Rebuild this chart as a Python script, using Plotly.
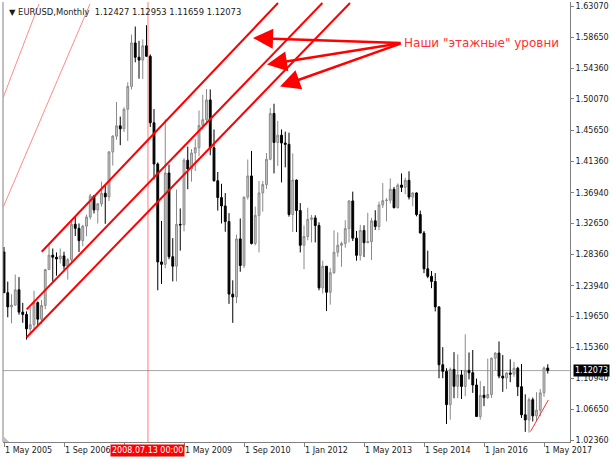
import plotly.graph_objects as go
import pandas as pd

# ---------------- data ----------------
months = [p.strftime('%Y-%m') for p in pd.period_range('2005-05', '2017-06', freq='M')]

opens = [
    1.2867, 1.2297, 1.2098, 1.2124, 1.2337, 1.2025, 1.1993, 1.1790,
    1.1849, 1.2158, 1.1926, 1.2118, 1.2620, 1.2822, 1.2793, 1.2769, 1.2811, 1.2670, 1.2758, 1.3254,
    1.3197, 1.3025, 1.3228, 1.3356, 1.3650, 1.3454, 1.3540, 1.3688, 1.3637, 1.4265, 1.4486, 1.4631,
    1.4589, 1.4862, 1.5182, 1.5790, 1.5590, 1.5550, 1.5750, 1.5604, 1.4674, 1.4097, 1.2727, 1.2693,
    1.3971, 1.2800, 1.2668, 1.3252, 1.3245, 1.4150, 1.4027, 1.4252, 1.4325, 1.4637, 1.4717, 1.4993,
    1.4325, 1.3863, 1.3627, 1.3510, 1.3291, 1.2277, 1.2237, 1.3049, 1.2677, 1.3634, 1.3930, 1.2985,
    1.3378, 1.3693, 1.3810, 1.4163, 1.4804, 1.4398, 1.4500, 1.4390, 1.4372, 1.3390, 1.3872, 1.3446,
    1.2960, 1.3083, 1.3323, 1.3343, 1.3237, 1.2365, 1.2667, 1.2303, 1.2577, 1.2862, 1.2960, 1.2984,
    1.3193, 1.3580, 1.3059, 1.2819, 1.3168, 1.2996, 1.3011, 1.3302, 1.3223, 1.3524, 1.3584, 1.3590,
    1.3743, 1.3486, 1.3802, 1.3770, 1.3869, 1.3634, 1.3692, 1.3390, 1.3131, 1.2631, 1.2526, 1.2453,
    1.2098, 1.1289, 1.1197, 1.0731, 1.1224, 1.0987, 1.1147, 1.0985, 1.1211, 1.1177, 1.1006, 1.0565,
    1.0862, 1.0829, 1.0872, 1.1380, 1.1452, 1.1130, 1.1103, 1.1174, 1.1157, 1.1240, 1.0982, 1.0589,
    1.0517, 1.0800, 1.0574, 1.0654, 1.0896, 1.12427,
]
highs = [
    1.2935, 1.2452, 1.2275, 1.2551, 1.2515, 1.2155, 1.2035, 1.2090,
    1.2325, 1.2175, 1.2195, 1.2630, 1.2980, 1.2915, 1.2860, 1.2915, 1.2870, 1.2780, 1.3290, 1.3365,
    1.3265, 1.3245, 1.3390, 1.3680, 1.3660, 1.3545, 1.3850, 1.3790, 1.4280, 1.4500, 1.4965, 1.4760,
    1.4890, 1.5240, 1.5905, 1.6020, 1.5820, 1.5840, 1.6038, 1.5630, 1.4865, 1.4120, 1.3300, 1.4720,
    1.4090, 1.3060, 1.3740, 1.3475, 1.4180, 1.4340, 1.4305, 1.4445, 1.4845, 1.5065, 1.5145, 1.5140,
    1.4580, 1.3985, 1.3820, 1.3690, 1.3410, 1.2470, 1.3110, 1.3335, 1.3640, 1.4160, 1.4280, 1.3500,
    1.3860, 1.3860, 1.4250, 1.4880, 1.4940, 1.4700, 1.4580, 1.4550, 1.4535, 1.4245, 1.3880, 1.3550,
    1.3235, 1.3485, 1.3385, 1.3380, 1.3280, 1.2745, 1.2670, 1.2640, 1.3170, 1.3140, 1.3010, 1.3310,
    1.3590, 1.3710, 1.3160, 1.3245, 1.3240, 1.3415, 1.3345, 1.3450, 1.3570, 1.3830, 1.3620, 1.3895,
    1.3775, 1.3825, 1.3965, 1.3905, 1.3995, 1.3700, 1.3700, 1.3445, 1.3160, 1.2885, 1.2600, 1.2570,
    1.2105, 1.1535, 1.1240, 1.1250, 1.1465, 1.1435, 1.1215, 1.1715, 1.1460, 1.1495, 1.1095, 1.1060,
    1.0990, 1.1375, 1.1390, 1.1465, 1.1615, 1.1425, 1.1185, 1.1365, 1.1330, 1.1260, 1.1300, 1.0875,
    1.0830, 1.0830, 1.0905, 1.0950, 1.1265, 1.12953,
]
lows = [
    1.2292, 1.1953, 1.1868, 1.2115, 1.1990, 1.1875, 1.1640, 1.1710,
    1.1790, 1.1830, 1.1860, 1.2065, 1.2620, 1.2455, 1.2535, 1.2705, 1.2620, 1.2480, 1.2710, 1.3090,
    1.2865, 1.2945, 1.3085, 1.3320, 1.3405, 1.3265, 1.3500, 1.3260, 1.3580, 1.4075, 1.4435, 1.4360,
    1.4545, 1.4420, 1.5140, 1.5520, 1.5290, 1.5285, 1.5595, 1.4615, 1.3880, 1.2330, 1.2420, 1.2640,
    1.2765, 1.2455, 1.2455, 1.2885, 1.3155, 1.3745, 1.3850, 1.4000, 1.4205, 1.4580, 1.4650, 1.4220,
    1.3850, 1.3445, 1.3265, 1.3150, 1.2140, 1.1875, 1.2150, 1.2590, 1.2640, 1.3600, 1.2970, 1.2960,
    1.2860, 1.3430, 1.3750, 1.4150, 1.3965, 1.4070, 1.3840, 1.4050, 1.3360, 1.3145, 1.3145, 1.2860,
    1.2625, 1.3030, 1.3000, 1.3000, 1.2330, 1.2285, 1.2040, 1.2130, 1.2560, 1.2800, 1.2660, 1.2925,
    1.3000, 1.3020, 1.2745, 1.2745, 1.2795, 1.2990, 1.2755, 1.3175, 1.3170, 1.3480, 1.3295, 1.3545,
    1.3475, 1.3475, 1.3705, 1.3675, 1.3600, 1.3505, 1.3365, 1.3130, 1.2570, 1.2500, 1.2360, 1.2035,
    1.1100, 1.1100, 1.0460, 1.0520, 1.0820, 1.0820, 1.0810, 1.0850, 1.1085, 1.0895, 1.0560, 1.0520,
    1.0710, 1.0810, 1.0825, 1.1215, 1.1100, 1.0910, 1.0950, 1.1045, 1.1120, 1.0850, 1.0545, 1.0350,
    1.0340, 1.0495, 1.0495, 1.0570, 1.0840, 1.11659,
]
closes = [
    1.2297, 1.2098, 1.2124, 1.2337, 1.2025, 1.1993, 1.1790, 1.1849,
    1.2158, 1.1926, 1.2118, 1.2620, 1.2822, 1.2793, 1.2769, 1.2811, 1.2670, 1.2758, 1.3254, 1.3197,
    1.3025, 1.3228, 1.3356, 1.3650, 1.3454, 1.3540, 1.3688, 1.3637, 1.4265, 1.4486, 1.4631, 1.4589,
    1.4862, 1.5182, 1.5790, 1.5590, 1.5550, 1.5750, 1.5604, 1.4674, 1.4097, 1.2727, 1.2693, 1.3971,
    1.2800, 1.2668, 1.3252, 1.3245, 1.4150, 1.4027, 1.4252, 1.4325, 1.4637, 1.4717, 1.4993, 1.4325,
    1.3863, 1.3627, 1.3510, 1.3291, 1.2277, 1.2237, 1.3049, 1.2677, 1.3634, 1.3930, 1.2985, 1.3378,
    1.3693, 1.3810, 1.4163, 1.4804, 1.4398, 1.4500, 1.4390, 1.4372, 1.3390, 1.3872, 1.3446, 1.2960,
    1.3083, 1.3323, 1.3343, 1.3237, 1.2365, 1.2667, 1.2303, 1.2577, 1.2862, 1.2960, 1.2984, 1.3193,
    1.3580, 1.3059, 1.2819, 1.3168, 1.2996, 1.3011, 1.3302, 1.3223, 1.3524, 1.3584, 1.3590, 1.3743,
    1.3486, 1.3802, 1.3770, 1.3869, 1.3634, 1.3692, 1.3390, 1.3131, 1.2631, 1.2526, 1.2453, 1.2098,
    1.1289, 1.1197, 1.0731, 1.1224, 1.0987, 1.1147, 1.0985, 1.1211, 1.1177, 1.1006, 1.0565, 1.0862,
    1.0829, 1.0872, 1.1380, 1.1452, 1.1130, 1.1103, 1.1174, 1.1157, 1.1240, 1.0982, 1.0589, 1.0517,
    1.0800, 1.0574, 1.0654, 1.0896, 1.1245, 1.12073,
]

tick_months = ['2005-05', '2006-09', '2008-01', '2009-05', '2010-09',
               '2012-01', '2013-05', '2014-09', '2016-01', '2017-05']
tick_labels = ['1 May 2005', '1 Sep 2006', '1 Jan 2008', '1 May 2009', '1 Sep 2010',
               '1 Jan 2012', '1 May 2013', '1 Sep 2014', '1 Jan 2016', '1 May 2017']
price_ticks = [1.63070, 1.58650, 1.54360, 1.50070, 1.45650, 1.41360, 1.36940, 1.32650,
               1.28360, 1.23940, 1.19650, 1.15360, 1.10940, 1.06650, 1.02360]

symbol_title = 'EURUSD,Monthly'
marker_date = '2008.07.13 00:00'
note_text = 'Наши "этажные" уровни'

# ---------------- figure ----------------
x = list(range(len(months)))
idx = {m: i for i, m in enumerate(months)}
FONT = 'DejaVu Sans'

fig = go.Figure()
fig.add_trace(go.Candlestick(
    x=x, open=opens, high=highs, low=lows, close=closes,
    increasing=dict(line=dict(color='#8a8a8a', width=1), fillcolor='#c8c8c8'),
    decreasing=dict(line=dict(color='#000000', width=1), fillcolor='#000000'),
    whiskerwidth=0, hoverinfo='skip', showlegend=False,
))

shapes = []
# left border
shapes.append(dict(type='line', xref='paper', yref='paper', x0=0, x1=0, y0=0, y1=1,
                   line=dict(color='#808080', width=1)))
# bid line
shapes.append(dict(type='line', xref='paper', yref='y', x0=0, x1=1,
                   y0=closes[-1], y1=closes[-1], line=dict(color='#a8a8a8', width=1),
                   layer='below'))
# vertical marker line 2008.07.13
vx = idx['2008-07'] + 12 / 31
shapes.append(dict(type='line', xref='x', yref='paper', x0=vx, x1=vx, y0=0, y1=1,
                   line=dict(color='rgba(255,60,60,0.45)', width=1.5)))
# channel lines (thick red)
for (xa, ya, xb, yb) in [(10.05, 1.2870, 73.07, 1.6349),
                         (6.05, 1.2064, 84.9, 1.6349),
                         (6.05, 1.1673, 92.27, 1.6349)]:
    shapes.append(dict(type='line', xref='x', yref='y', x0=xa, y0=ya, x1=xb, y1=yb,
                       line=dict(color='#ff0000', width=2)))
# thin light-red lines at top-left
for (xa, ya, xb, yb) in [(-0.27, 1.5020, 9.33, 1.6335),
                         (-0.27, 1.3486, 22.93, 1.6335)]:
    shapes.append(dict(type='line', xref='x', yref='y', x0=xa, y0=ya, x1=xb, y1=yb,
                       line=dict(color='#ff8a8a', width=1)))
# small trend line bottom-right
shapes.append(dict(type='line', xref='x', yref='y', x0=140.4, y0=1.0355, x1=145.15, y1=1.0796,
                   line=dict(color='#ff3030', width=1)))
# MT4 shift marker
shapes.append(dict(type='path', xref='paper', yref='paper',
                   path='M 0,0 L 0.011,0 L 0,0.014 Z', fillcolor='#c0c0c0',
                   line=dict(width=0)))

annotations = []
# x tick labels (left-aligned at ticks, as in MT4); the one under the date box is hidden
for m, lab in zip(tick_months, tick_labels):
    if m == '2008-01':
        continue
    annotations.append(dict(x=idx[m], xref='x', y=0, yref='paper', text=lab,
                            showarrow=False, xanchor='left', yanchor='top',
                            xshift=-1, yshift=-2,
                            font=dict(family=FONT, size=8, color='#1a1a1a')))
# red date box
annotations.append(dict(x=vx, xref='x', y=0, yref='paper', text=marker_date,
                        showarrow=False, xanchor='center', yanchor='top', yshift=-2,
                        bgcolor='#ff0000', borderpad=1,
                        font=dict(family=FONT, size=8, color='#ffffff')))
# bid price box
annotations.append(dict(x=1, xref='paper', y=closes[-1], yref='y',
                        text=f'{closes[-1]:.5f}', showarrow=False,
                        xanchor='left', yanchor='middle', xshift=3,
                        bgcolor='#000000', borderpad=1,
                        font=dict(family=FONT, size=8, color='#ffffff')))
# header
annotations.append(dict(x=0, xref='paper', y=1, yref='paper',
                        text=f'▼ {symbol_title}  {opens[-1]:.5f} {highs[-1]:.5f} '
                             f'{lows[-1]:.5f} {closes[-1]:.5f}',
                        showarrow=False, xanchor='left', yanchor='top', xshift=4, yshift=-3,
                        font=dict(family=FONT, size=8.4, color='#1a1a1a')))
# arrows
tail = (106.13, 1.5789)
for tip in [(66.4, 1.5859), (70.13, 1.5489), (73.6, 1.5181)]:
    annotations.append(dict(x=tip[0], y=tip[1], xref='x', yref='y',
                            ax=tail[0], ay=tail[1], axref='x', ayref='y',
                            text='', showarrow=True, arrowhead=2, arrowsize=1.6,
                            arrowwidth=2.5, arrowcolor='#ff0000'))
# note text
annotations.append(dict(x=tail[0], y=tail[1], xref='x', yref='y', text=note_text,
                        showarrow=False, xanchor='left', yanchor='middle', xshift=0,
                        font=dict(family=FONT, size=12, color='#ff3030')))

fig.update_layout(
    width=613, height=464, autosize=False,
    margin=dict(l=3, r=43, t=2, b=22, pad=0),
    paper_bgcolor='#ffffff', plot_bgcolor='#ffffff',
    shapes=shapes, annotations=annotations, showlegend=False,
    xaxis=dict(range=[-0.267, 150.93], showgrid=False, zeroline=False,
               showline=True, linecolor='#808080', linewidth=1,
               ticks='outside', ticklen=4, tickcolor='#808080',
               tickvals=[idx[m] for m in tick_months], showticklabels=False,
               rangeslider=dict(visible=False), fixedrange=True),
    yaxis=dict(range=[1.02082, 1.63630], side='right', showgrid=False, zeroline=False,
               showline=True, linecolor='#808080', linewidth=1,
               ticks='outside', ticklen=3, tickcolor='#808080',
               tickvals=price_ticks, ticktext=[f'{v:.5f}' for v in price_ticks],
               tickfont=dict(family=FONT, size=8, color='#1a1a1a'), fixedrange=True),
)

fig.write_html('out.html', config={'displayModeBar': False},
               post_script="document.body.style.margin='0px';"
                           "document.body.style.padding='0px';"
                           "document.documentElement.style.overflow='hidden';")
